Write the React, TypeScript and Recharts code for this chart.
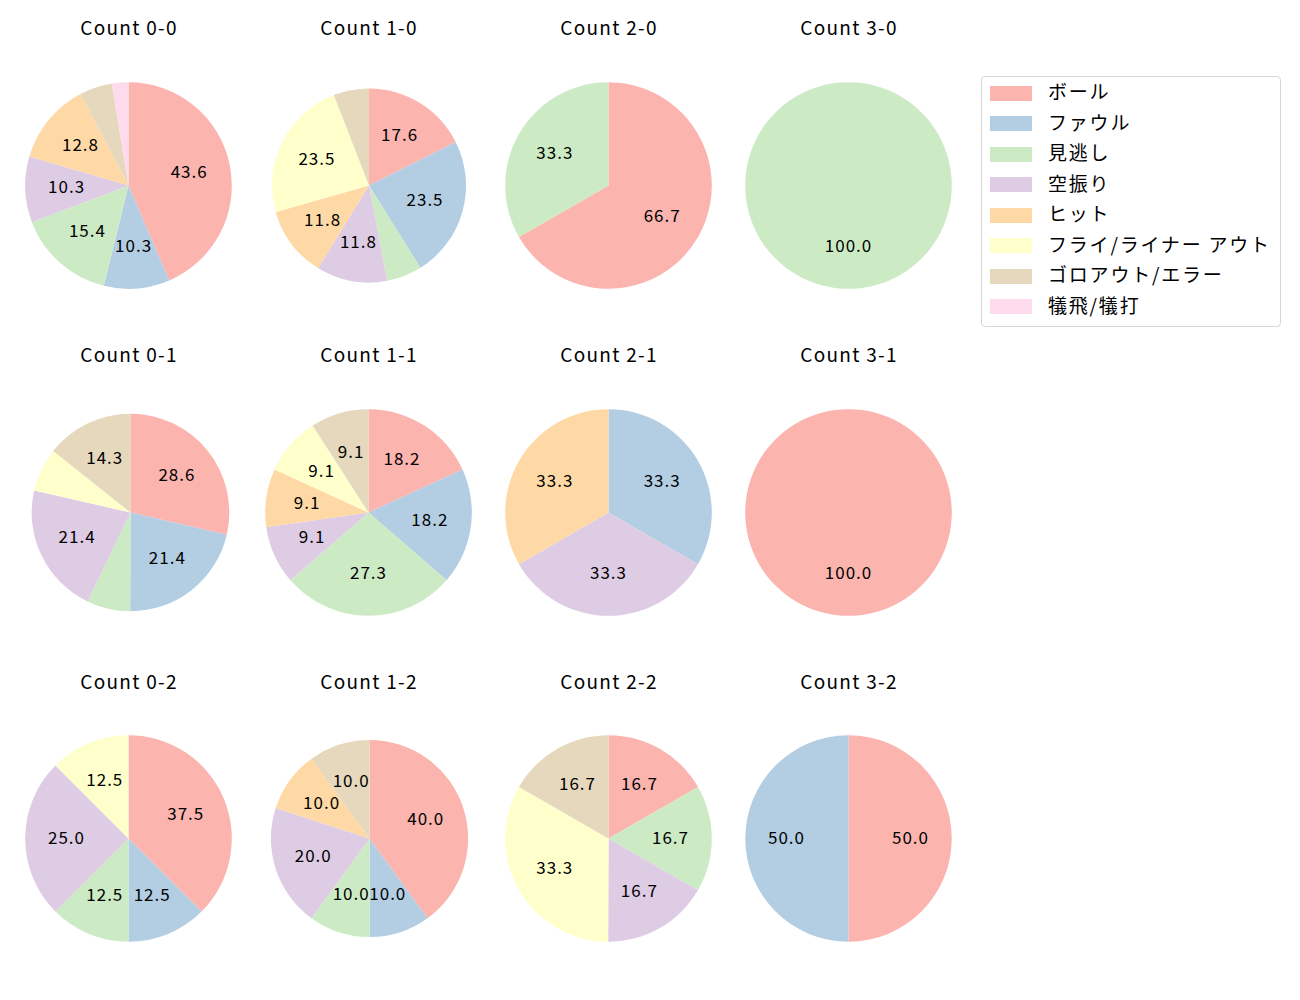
import { PieChart, Pie, Cell } from 'recharts';

const categories = ['ボール', 'ファウル', '見逃し', '空振り', 'ヒット', 'フライ/ライナー アウト', 'ゴロアウト/エラー', '犠飛/犠打'];
const colors = ['#fbb4ae', '#b3cde3', '#ccebc5', '#decbe4', '#fed9a6', '#ffffcc', '#e5d8bd', '#fddaec'];

// percent shares per count, in category order
const count00 = [43.6, 10.3, 15.4, 10.3, 12.8, 0, 5.1, 2.6];
const count10 = [17.6, 23.5, 5.9, 11.8, 11.8, 23.5, 5.9, 0];
const count20 = [66.7, 0, 33.3, 0, 0, 0, 0, 0];
const count30 = [0, 0, 100, 0, 0, 0, 0, 0];
const count01 = [28.6, 21.4, 7.1, 21.4, 0, 7.1, 14.3, 0];
const count11 = [18.2, 18.2, 27.3, 9.1, 9.1, 9.1, 9.1, 0];
const count21 = [0, 33.3, 0, 33.3, 33.3, 0, 0, 0];
const count31 = [100, 0, 0, 0, 0, 0, 0, 0];
const count02 = [37.5, 12.5, 12.5, 25.0, 0, 12.5, 0, 0];
const count12 = [40.0, 10.0, 10.0, 20.0, 10.0, 0, 10.0, 0];
const count22 = [16.7, 0, 16.7, 16.7, 0, 33.3, 16.7, 0];
const count32 = [50.0, 50.0, 0, 0, 0, 0, 0, 0];

const panels = [
  { title: 'Count 0-0', values: count00, cx: 128.5, cy: 185.5, r: 103.3 },
  { title: 'Count 1-0', values: count10, cx: 369, cy: 185.5, r: 97 },
  { title: 'Count 2-0', values: count20, cx: 608.5, cy: 185.5, r: 103.3 },
  { title: 'Count 3-0', values: count30, cx: 848.5, cy: 185.5, r: 103.3 },
  { title: 'Count 0-1', values: count01, cx: 130.5, cy: 512.5, r: 98.8 },
  { title: 'Count 1-1', values: count11, cx: 368.5, cy: 512.5, r: 103.3 },
  { title: 'Count 2-1', values: count21, cx: 608.5, cy: 512.5, r: 103.3 },
  { title: 'Count 3-1', values: count31, cx: 848.5, cy: 512.5, r: 103.3 },
  { title: 'Count 0-2', values: count02, cx: 128.5, cy: 838.5, r: 103.3 },
  { title: 'Count 1-2', values: count12, cx: 369.5, cy: 838.5, r: 98.6 },
  { title: 'Count 2-2', values: count22, cx: 608.5, cy: 838.5, r: 103.3 },
  { title: 'Count 3-2', values: count32, cx: 848.5, cy: 838.5, r: 103.3 },
];

const titleXs = [129, 369, 609, 849];
const titleYs = [27, 354, 681];

const FONT = '"Noto Sans CJK JP", "Noto Sans", sans-serif';
const RAD = Math.PI / 180;

const renderLabel = (props: any) => {
  const { cx, cy, midAngle, outerRadius, value } = props;
  if (value < 8) return null;
  const d = outerRadius * 0.6;
  const x = cx + d * Math.cos(-midAngle * RAD);
  const y = cy + d * Math.sin(-midAngle * RAD) - 2.5;
  return (
    <text x={x} y={y} textAnchor="middle" dominantBaseline="central" fill="#000" fontSize={17} letterSpacing={1} fontFamily={FONT}>
      {value.toFixed(1)}
    </text>
  );
};

export default function App() {
  return (
    <div style={{ position: 'absolute', left: 0, top: 0, width: 1300, height: 1000, background: '#fff', fontFamily: FONT }}>
      <PieChart width={1300} height={1000} margin={{ top: 0, right: 0, bottom: 0, left: 0 }}>
        {panels.map((p) => {
          const data = p.values
            .map((v, k) => ({ name: categories[k], value: v, color: colors[k] }))
            .filter((d) => d.value > 0);
          return (
            <Pie
              key={p.title}
              data={data}
              dataKey="value"
              nameKey="name"
              cx={p.cx}
              cy={p.cy}
              outerRadius={p.r}
              startAngle={90}
              endAngle={-270}
              stroke="none"
              label={renderLabel}
              labelLine={false}
              isAnimationActive={false}
            >
              {data.map((d) => (
                <Cell key={d.name} fill={d.color} />
              ))}
            </Pie>
          );
        })}
      </PieChart>

      {panels.map((p, i) => (
        <div
          key={'t' + p.title}
          style={{
            position: 'absolute',
            left: titleXs[i % 4] - 100,
            top: titleYs[Math.floor(i / 4)] - 14,
            width: 200,
            height: 28,
            lineHeight: '28px',
            textAlign: 'center',
            fontSize: 19,
            letterSpacing: 1.3,
            color: '#000',
          }}
        >
          {p.title}
        </div>
      ))}

      <div
        style={{
          position: 'absolute',
          left: 981,
          top: 76,
          width: 298,
          height: 249,
          border: '1px solid #d6d6d6',
          borderRadius: 4,
          boxSizing: 'content-box',
        }}
      >
        {categories.map((c, k) => (
          <div key={c} style={{ position: 'absolute', left: 0, top: k * 30.57, height: 30, width: 298 }}>
            <div style={{ position: 'absolute', left: 8, top: 8.5, width: 42, height: 15, background: colors[k] }} />
            <div style={{ position: 'absolute', left: 66, top: -1, height: 30, lineHeight: '30px', fontSize: 19, letterSpacing: 1.8, color: '#000', whiteSpace: 'nowrap' }}>
              {c}
            </div>
          </div>
        ))}
      </div>
    </div>
  );
}
